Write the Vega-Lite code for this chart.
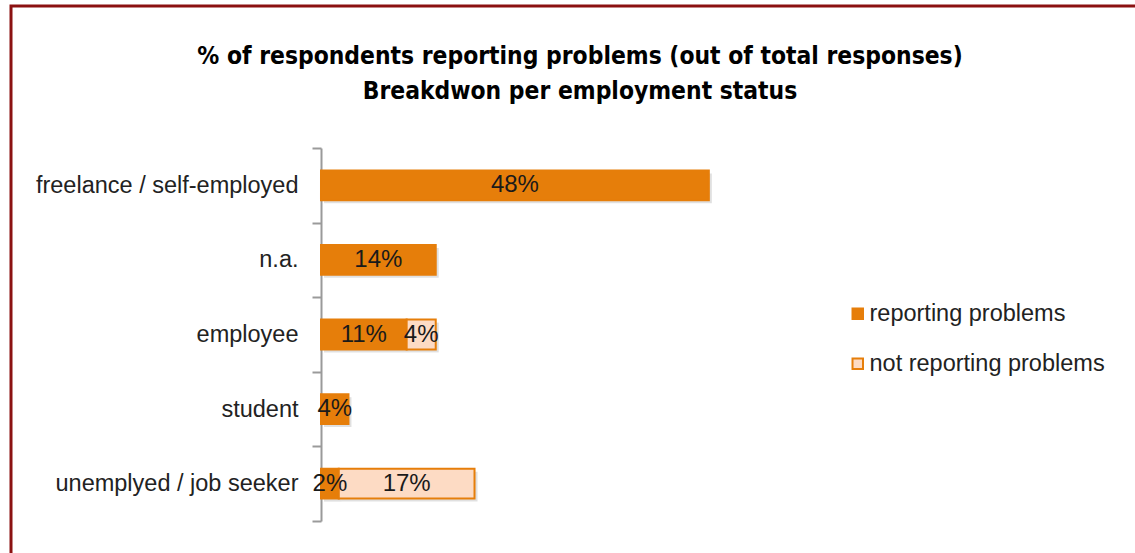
{
  "$schema": "https://vega.github.io/schema/vega-lite/v6.json",
  "width": 1138,
  "height": 560,
  "autosize": {"type": "none"},
  "padding": {"left": 11, "top": 6, "right": 0, "bottom": 0},
  "background": "white",
  "config": {
    "view": {"stroke": "#8b1111", "strokeWidth": 3},
    "font": "Liberation Sans"
  },
  "title": {
    "text": ["% of respondents reporting problems (out of total responses)", "Breakdwon per employment status"],
    "font": "DejaVu Sans Condensed, Roboto",
    "fontSize": 24.4,
    "fontWeight": "bold",
    "color": "#000000",
    "lineHeight": 35,
    "anchor": "middle",
    "offset": -110
  },
  "data": {
    "values": [
      {"category": "freelance / self-employed", "status": "reporting problems", "value": 48.0, "label": "48%"},
      {"category": "n.a.", "status": "reporting problems", "value": 14.2, "label": "14%"},
      {"category": "employee", "status": "reporting problems", "value": 10.6, "label": "11%"},
      {"category": "employee", "status": "not reporting problems", "value": 3.6, "label": "4%"},
      {"category": "student", "status": "reporting problems", "value": 3.4, "label": "4%"},
      {"category": "unemplyed / job seeker", "status": "reporting problems", "value": 2.2, "label": "2%"},
      {"category": "unemplyed / job seeker", "status": "not reporting problems", "value": 16.8, "label": "17%"}
    ]
  },
  "transform": [
    {"stack": "value", "groupby": ["category"], "sort": [{"field": "status", "order": "descending"}], "as": ["v0", "v1"]},
    {"calculate": "(datum.v0 + datum.v1) / 2", "as": "mid"}
  ],
  "encoding": {
    "y": {
      "field": "category",
      "type": "nominal",
      "sort": ["freelance / self-employed", "n.a.", "employee", "student", "unemplyed / job seeker"],
      "scale": {"range": [142, 515], "paddingInner": 0, "paddingOuter": 0},
      "axis": {
        "title": null,
        "offset": -310,
        "tickBand": "extent",
        "domainColor": "#9a9a9a",
        "domainWidth": 2,
        "tickColor": "#9a9a9a",
        "tickWidth": 2,
        "tickSize": 9,
        "labelPadding": 14,
        "labelFontSize": 23.5,
        "labelLimit": 0,
        "labelColor": "#222222",
        "labelFont": "Liberation Sans",
        "grid": false
      }
    }
  },
  "layer": [
    {
      "mark": {"type": "bar", "height": {"band": 0.4}, "xOffset": 3, "yOffset": 3, "x2Offset": 3, "y2Offset": 3, "color": "#000000", "opacity": 0.12},
      "encoding": {
        "x": {"field": "v0", "type": "quantitative", "scale": {"domain": [0, 60], "range": [310, 794.8]}, "axis": null},
        "x2": {"field": "v1"}
      }
    },
    {
      "mark": {"type": "bar", "height": {"band": 0.4}, "stroke": "#e67e0a", "strokeWidth": 2},
      "encoding": {
        "x": {"field": "v0", "type": "quantitative", "scale": {"domain": [0, 60], "range": [310, 794.8]}, "axis": null},
        "x2": {"field": "v1"},
        "color": {
          "field": "status",
          "type": "nominal",
          "scale": {"domain": ["reporting problems", "not reporting problems"], "range": ["#e67e0a", "#fddbc4"]},
          "legend": {
            "title": null,
            "orient": "none",
            "legendX": 835,
            "legendY": 296,
            "direction": "vertical",
            "symbolType": "square",
            "symbolSize": 110,
            "symbolStrokeColor": "#e67e0a",
            "symbolStrokeWidth": 2,
            "labelFontSize": 23.5,
            "labelLimit": 0,
            "labelColor": "#222222",
            "labelFont": "Liberation Sans",
            "labelOffset": 0,
            "rowPadding": 25
          }
        }
      }
    },
    {
      "mark": {"type": "text", "fontSize": 24, "color": "#1a1a1a", "align": "center", "baseline": "middle"},
      "encoding": {
        "x": {"field": "mid", "type": "quantitative", "scale": {"domain": [0, 60], "range": [310, 794.8]}, "axis": null},
        "text": {"field": "label"}
      }
    }
  ]
}
